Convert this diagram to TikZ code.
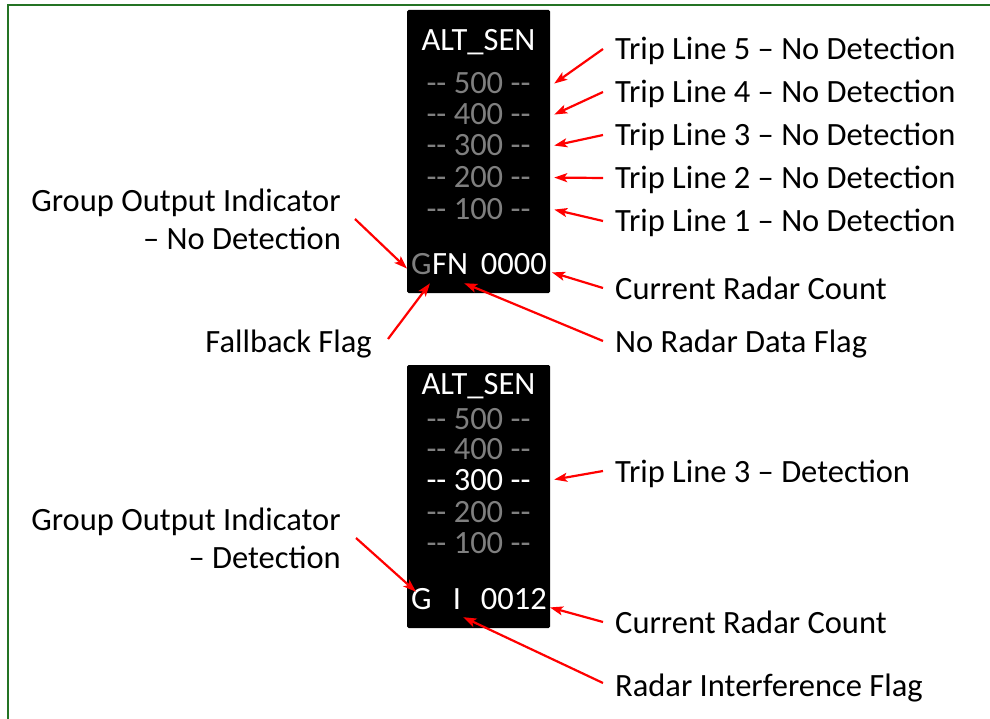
\documentclass[tikz,border=0pt]{standalone}
\usepackage{fontspec}
\setmainfont{Carlito}
\definecolor{FrameGreen}{RGB}{36,115,36}
\definecolor{DimGray}{RGB}{127,127,127}
\definecolor{ArrowRed}{RGB}{255,0,0}
\usetikzlibrary{arrows.meta, positioning}

\begin{document}
\begin{tikzpicture}[x=1pt, y=-1pt, >={Stealth[length=13pt, width=9pt, inset=3pt]},
    txt/.style={font=\fontsize{32.5}{38}\selectfont, inner sep=0pt},
    rowtxt/.style={txt, DimGray, minimum width=143pt, anchor=base},
    ptr/.style={ArrowRed, line width=2.2pt, ->}]
    \useasboundingbox (0,0) rectangle (990,719);
    % frame
    \draw[FrameGreen, line width=2.5pt] (8,719) -- (8,5) -- (990,5);
    % upper display
    \fill[rounded corners=1.5pt] (407,10) rectangle (550,293);
    \node[rowtxt, white] (uhead) at (478.5,51) {ALT\_SEN};
    \foreach \val/\y in {500/94, 400/125, 300/156, 200/188, 100/220}
        \node[rowtxt] (u\val) at (478.5,\y) {-{}- \val\ -{}-};
    \node[txt, DimGray, anchor=base west] (ugrp) at (411,274) {G};
    \node[txt, white, anchor=base west] (uflag) at (ugrp.base east) {FN};
    \node[txt, white, anchor=base east] (ucount) at (547,274) {0000};
    % trip line labels
    \foreach \k/\y/\val in {5/60/500, 4/103/400, 3/146/300, 2/189/200, 1/232/100} {
        \node[txt, anchor=base west] (trip\k) at (615,\y) {Trip Line \k\ – No Detection};
        \draw[ptr] ([shift={(-12,-11)}]trip\k.base west) -- ([shift={(4,0)}]u\val.east);
    }
    % count and flags
    \node[txt, anchor=base west] (ucnt) at (615,299) {Current Radar Count};
    \draw[ptr] ([shift={(-12,-11)}]ucnt.base west) -- ([shift={(5,-2)}]ucount.south east);
    \node[txt, anchor=base west] (nodata) at (615,352) {No Radar Data Flag};
    \draw[ptr] ([shift={(-12,-11)}]nodata.base west) -- ([shift={(-4,9)}]uflag.south east);
    \node[txt, anchor=base east] (fallback) at (372,352) {Fallback Flag};
    \draw[ptr] ([shift={(16,-13)}]fallback.base east) -- ([shift={(-2,9)}]ugrp.south east);
    \node[txt, align=right, anchor=east] (ugo) at (341,219) {Group Output Indicator\\– No Detection};
    \draw[ptr] ([shift={(14,0)}]ugo.east) -- ([shift={(-4,5)}]ugrp.west);
    % lower display
    \fill[rounded corners=1.5pt] (407,365) rectangle (550,628);
    \node[rowtxt, white] (lhead) at (478.5,394) {ALT\_SEN};
    \foreach \val/\y in {500/429, 400/459, 200/522, 100/553}
        \node[rowtxt] (l\val) at (478.5,\y) {-{}- \val\ -{}-};
    \node[rowtxt, white] (l300) at (478.5,490) {-{}- 300 -{}-};
    \node[txt, white, anchor=base west] (lgrp) at (411,609) {G};
    \node[txt, white, anchor=base] (lint) at (457,609) {I};
    \node[txt, white, anchor=base east] (lcount) at (547,609) {0012};
    % lower labels
    \node[txt, anchor=base west] (trip3d) at (615,482) {Trip Line 3 – Detection};
    \draw[ptr] ([shift={(-12,-11)}]trip3d.base west) -- ([shift={(4,0)}]l300.east);
    \node[txt, align=right, anchor=east] (lgo) at (341,538) {Group Output Indicator\\– Detection};
    \draw[ptr] ([shift={(15,0)}]lgo.east) -- ([shift={(5,4)}]lgrp.north west);
    \node[txt, anchor=base west] (lcnt) at (615,633) {Current Radar Count};
    \draw[ptr] ([shift={(-12,-11)}]lcnt.base west) -- ([shift={(3,-2)}]lcount.south east);
    \node[txt, anchor=base west] (interf) at (615,696) {Radar Interference Flag};
    \draw[ptr] ([shift={(-12,-13)}]interf.base west) -- ([shift={(2,8)}]lint.south east);
\end{tikzpicture}
\end{document}
